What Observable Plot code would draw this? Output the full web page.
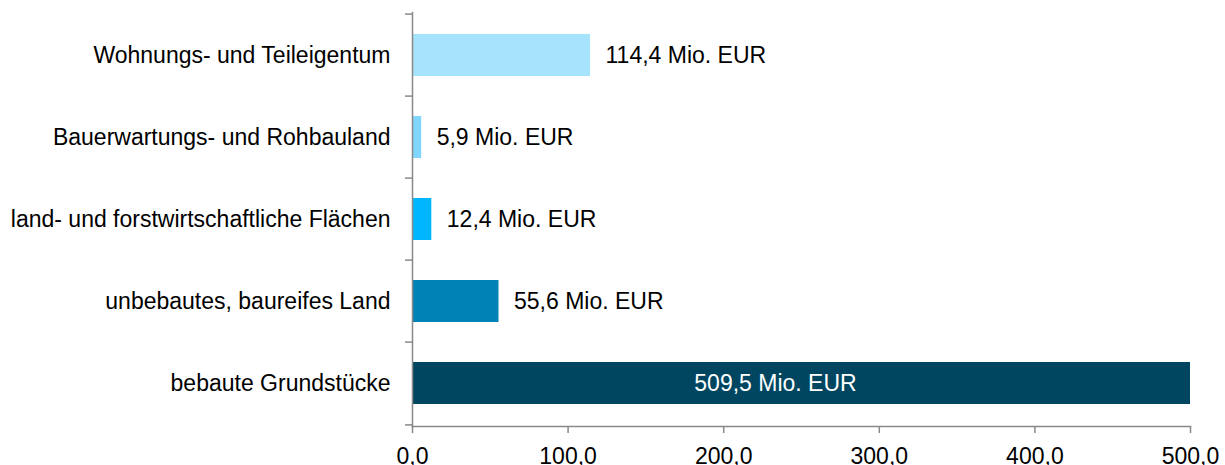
<!DOCTYPE html>
<html>
<head>
<meta charset="utf-8">
<script src="https://cdn.jsdelivr.net/npm/d3@7"></script>
<script src="https://cdn.jsdelivr.net/npm/@observablehq/plot@0.6"></script>
<style>
  html, body { margin: 0; padding: 0; background: #fff; }
</style>
</head>
<body>
<div id="chart"></div>
<script>
const categories = [
  "Wohnungs- und Teileigentum",
  "Bauerwartungs- und Rohbauland",
  "land- und forstwirtschaftliche Flächen",
  "unbebautes, baureifes Land",
  "bebaute Grundstücke"
];
const values = [114.4, 5.9, 12.4, 55.6, 509.5];
const colors = ["#a6e4fe", "#80d6ff", "#00b7ff", "#0082b6", "#004660"];
const insideLabel = [false, false, false, false, true];
const xTicks = [0, 100, 200, 300, 400, 500];
const xMax = 500;
const unit = "Mio. EUR";

const fmt = v => v.toFixed(1).replace(".", ",");
const data = categories.map((c, i) => ({cat: c, value: values[i], inside: insideLabel[i]}));
const gray = "#898989";
const fs = 23;

const chart = Plot.plot({
  width: 1225,
  height: 465,
  marginLeft: 412,
  marginRight: 35,
  marginTop: 12,
  marginBottom: 39,
  style: {fontFamily: "Arial, 'Liberation Sans', sans-serif", fontSize: fs + "px", color: "#000", background: "#fff"},
  x: {domain: [0, xMax]},
  y: {domain: categories, paddingInner: 0.49, paddingOuter: 0.245},
  color: {domain: categories, range: colors},
  marks: [
    Plot.barX(data, {x: "value", y: "cat", fill: "cat", clip: true}),
    Plot.frame({anchor: "left", stroke: gray, strokeWidth: 1.5}),
    Plot.frame({anchor: "bottom", stroke: gray, strokeWidth: 1.5}),
    Plot.axisY({tickSize: 0, tickPadding: 22, fontSize: fs, fill: "#000", label: null}),
    Plot.axisY({text: null, tickSize: 7, dy: -41.4, stroke: gray, strokeWidth: 1.5, label: null}),
    Plot.axisY({ticks: [categories[categories.length - 1]], text: null, tickSize: 7, dy: 41.4, stroke: gray, strokeWidth: 1.5, label: null}),
    Plot.axisX({ticks: xTicks, tickSize: 7, tickPadding: 14, tickFormat: fmt, stroke: gray, strokeWidth: 1.5, fontSize: fs, fill: "#000", label: null}),
    Plot.text(data.filter(d => !d.inside), {
      x: "value", y: "cat", text: d => `${fmt(d.value)} ${unit}`,
      textAnchor: "start", dx: 15, fill: "#000", fontSize: fs
    }),
    Plot.text(data.filter(d => d.inside), {
      x: d => Math.min(d.value, xMax) / 2, y: "cat", text: d => `${fmt(d.value)} ${unit}`,
      textAnchor: "middle", dx: -26, fill: "#fff", fontSize: fs
    })
  ]
});
document.getElementById("chart").appendChild(chart);
</script>
</body>
</html>
